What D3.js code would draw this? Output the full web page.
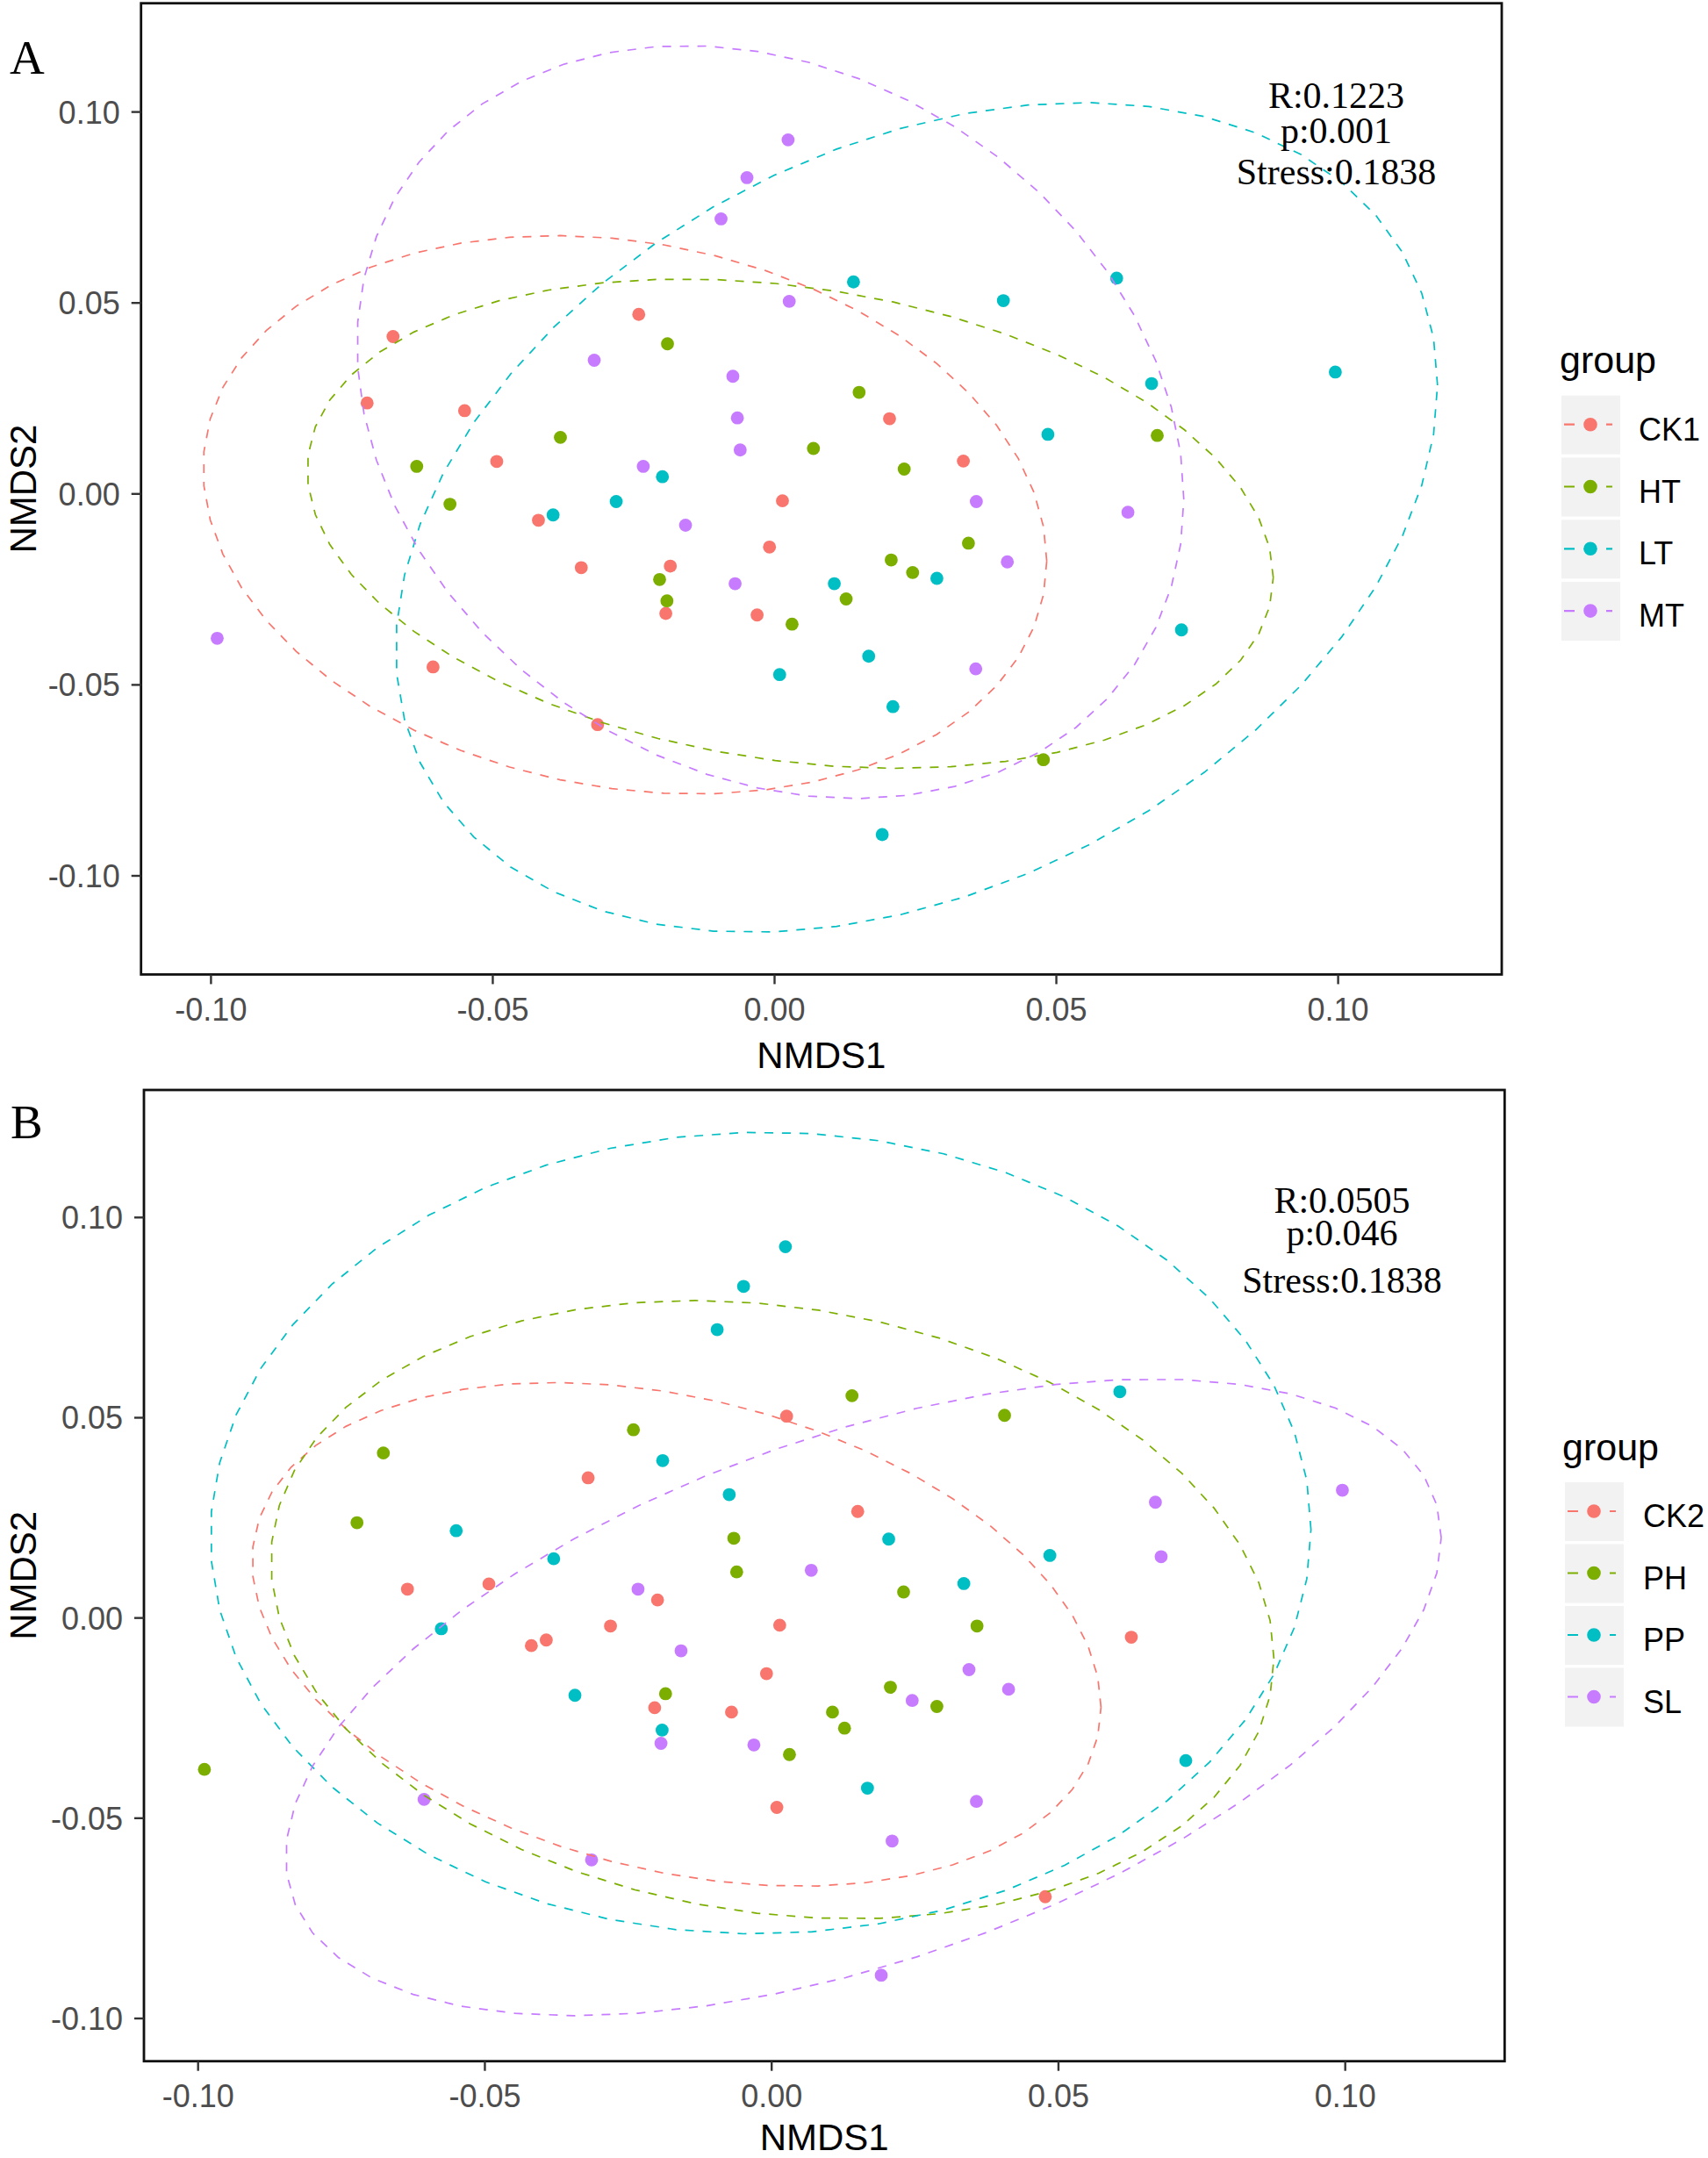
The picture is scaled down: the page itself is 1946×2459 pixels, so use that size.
<!DOCTYPE html>
<html>
<head>
<meta charset="utf-8">
<script src="https://cdn.jsdelivr.net/npm/d3@7"></script>
<style>
  html, body { margin: 0; padding: 0; background: #ffffff; }
  svg { display: block; }
</style>
</head>
<body>
<svg id="chart" width="1946" height="2459"></svg>
<script>
// ---------------- DATA ----------------
// NMDS coordinates of the 64 samples (same ordination in both panels)
const nmds1 = [
  -0.0677, -0.0723, -0.0550, -0.0493, -0.0419, -0.0343, -0.0241, -0.0185,
  -0.0193, -0.0606, -0.0314, -0.0031, -0.0009,  0.0014,  0.0204,  0.0335,
  -0.0635, -0.0576, -0.0380, -0.0190, -0.0204, -0.0191,  0.0031,  0.0069,
   0.0150,  0.0127,  0.0230,  0.0207,  0.0245,  0.0344,  0.0679,  0.0477,
  -0.0393, -0.0281, -0.0199,  0.0009,  0.0106,  0.0140,  0.0167,  0.0210,
   0.0288,  0.0191,  0.0406,  0.0485,  0.0607,  0.0669,  0.0722,  0.0995,
  -0.0989, -0.0320, -0.0233, -0.0158, -0.0095, -0.0049,  0.0024,  0.0026,
  -0.0074, -0.0066, -0.0061, -0.0070,  0.0358,  0.0413,  0.0357,  0.0627
];
const nmds2 = [
   0.0412,  0.0238,  0.0218,  0.0085, -0.0069, -0.0193,  0.0470, -0.0189,
  -0.0313, -0.0453, -0.0604, -0.0317, -0.0139, -0.0018,  0.0197,  0.0086,
   0.0072, -0.0027,  0.0148,  0.0393, -0.0224, -0.0280, -0.0341,  0.0119,
   0.0266, -0.0275,  0.0065, -0.0173, -0.0206, -0.0129,  0.0153, -0.0696,
  -0.0055, -0.0020,  0.0045, -0.0473, -0.0235,  0.0555, -0.0425, -0.0557,
  -0.0221, -0.0892,  0.0506,  0.0156,  0.0565,  0.0289, -0.0356,  0.0319,
  -0.0378,  0.0350,  0.0072, -0.0082,  0.0720,  0.0828,  0.0927,  0.0504,
   0.0308,  0.0199,  0.0115, -0.0235, -0.0020, -0.0178, -0.0458, -0.0048
];
// group of each sample, panel A
const groupA = [
  "CK1","CK1","CK1","CK1","CK1","CK1","CK1","CK1","CK1","CK1","CK1","CK1","CK1","CK1","CK1","CK1",
  "HT","HT","HT","HT","HT","HT","HT","HT","HT","HT","HT","HT","HT","HT","HT","HT",
  "LT","LT","LT","LT","LT","LT","LT","LT","LT","LT","LT","LT","LT","LT","LT","LT",
  "MT","MT","MT","MT","MT","MT","MT","MT","MT","MT","MT","MT","MT","MT","MT","MT"
];
// group of each sample, panel B
const groupB = [
  "PH","PH","PP","CK2","CK2","PP","PH","PH","SL","SL","SL","SL","CK2","CK2","PP","PP",
  "CK2","PP","PP","PP","CK2","PP","PH","SL","CK2","PH","PH","PH","SL","SL","SL","CK2",
  "CK2","CK2","CK2","CK2","PH","PH","PP","SL","PH","SL","PH","PP","PP","SL","PP","SL",
  "PH","CK2","SL","SL","PP","PP","PP","CK2","PP","PH","PH","CK2","PH","SL","SL","CK2"
];
const levelsA = ["CK1", "HT", "LT", "MT"];
const levelsB = ["CK2", "PH", "PP", "SL"];
const palette = ["#F8766D", "#7CAE00", "#00BFC4", "#C77CFF"];
const statsA = ["R:0.1223", "p:0.001", "Stress:0.1838"];
const statsB = ["R:0.0505", "p:0.046", "Stress:0.1838"];
const axisTicks = [-0.10, -0.05, 0.00, 0.05, 0.10];
const axisTickLabels = ["-0.10", "-0.05", "0.00", "0.05", "0.10"];
const xTitle = "NMDS1";
const yTitle = "NMDS2";
const legendTitle = "group";

// ---------------- STATS (ggplot2 stat_ellipse, type "t", level 0.95) ----------------
function covTrob(pts, nu = 5, maxit = 25, tol = 0.01) {
  const n = pts.length, p = 2;
  let loc = [d3.mean(pts, d => d[0]), d3.mean(pts, d => d[1])];
  let w = pts.map(() => 1);
  let X;
  for (let it = 0; it < maxit; it++) {
    const w0 = w.slice();
    X = pts.map(d => [d[0] - loc[0], d[1] - loc[1]]);
    const sw = d3.sum(w);
    let a = 0, b = 0, c = 0;
    X.forEach((v, i) => { a += w[i] * v[0] * v[0]; b += w[i] * v[0] * v[1]; c += w[i] * v[1] * v[1]; });
    a /= sw; b /= sw; c /= sw;
    const det = a * c - b * b;
    const ia = c / det, ib = -b / det, ic = a / det;
    const Q = X.map(v => v[0] * v[0] * ia + 2 * v[0] * v[1] * ib + v[1] * v[1] * ic);
    w = Q.map(q => (nu + p) / (nu + q));
    const sw2 = d3.sum(w);
    loc = [d3.sum(pts, (d, i) => w[i] * d[0]) / sw2, d3.sum(pts, (d, i) => w[i] * d[1]) / sw2];
    if (w.every((v, i) => Math.abs(v - w0[i]) < tol)) break;
  }
  let a = 0, b = 0, c = 0;
  X.forEach((v, i) => { a += w[i] * v[0] * v[0]; b += w[i] * v[0] * v[1]; c += w[i] * v[1] * v[1]; });
  return { center: loc, cov: [[a / n, b / n], [b / n, c / n]] };
}
function qf2(prob, d2) { return d2 / 2 * (Math.pow(1 - prob, -2 / d2) - 1); }
function ellipsePath(pts, level = 0.95, segments = 51) {
  const n = pts.length;
  const { center, cov } = covTrob(pts);
  const r = Math.sqrt(2 * qf2(level, n - 1));
  const R11 = Math.sqrt(cov[0][0]);
  const R12 = cov[0][1] / R11;
  const R22 = Math.sqrt(cov[1][1] - R12 * R12);
  const out = [];
  for (let k = 0; k <= segments; k++) {
    const t = k * 2 * Math.PI / segments;
    const c = Math.cos(t), s = Math.sin(t);
    out.push([center[0] + r * c * R11, center[1] + r * (c * R12 + s * R22)]);
  }
  return out;
}

// ---------------- LAYOUT ----------------
const panels = [
  { tag: "A", groups: groupA, levels: levelsA, stats: statsA,
    box: { l: 160.7, r: 1711, t: 3.7, b: 1110.4 },
    xr: [240.4, 1524.6], yr: [998, 127.6],
    tagPos: [11, 84], xTitleY: 1217,
    annX: 1522.5, annY: [122.7, 162.7, 210.3],
    leg: { titleX: 1777, titleY: 425, keyX: 1779, keyY0: 450.7, step: 70.8, labelX: 1867 } },
  { tag: "B", groups: groupB, levels: levelsB, stats: statsB,
    box: { l: 164, r: 1714.3, t: 1242, b: 2348.7 },
    xr: [225.7, 1532.7], yr: [2300, 1387.3],
    tagPos: [12, 1297], xTitleY: 2450,
    annX: 1529, annY: [1381.7, 1418.5, 1473],
    leg: { titleX: 1780, titleY: 1664, keyX: 1783, keyY0: 1689, step: 70.5, labelX: 1872 } }
];

const svg = d3.select("#chart");
const SANS = "'Liberation Sans', Arial, Helvetica, sans-serif";
const SERIF = "'Liberation Serif', 'Times New Roman', serif";
const DASH = "10,10";

panels.forEach((P, pi) => {
  const x = d3.scaleLinear().domain([-0.1, 0.1]).range(P.xr);
  const y = d3.scaleLinear().domain([-0.1, 0.1]).range(P.yr);
  const color = d3.scaleOrdinal().domain(P.levels).range(palette);
  const g = svg.append("g");
  const B = P.box;

  const clipId = "clip" + pi;
  g.append("clipPath").attr("id", clipId).append("rect")
    .attr("x", B.l).attr("y", B.t).attr("width", B.r - B.l).attr("height", B.b - B.t);

  const plot = g.append("g").attr("clip-path", `url(#${clipId})`);

  // points
  const idx = d3.range(nmds1.length);
  plot.selectAll("circle.pt").data(idx).join("circle")
    .attr("class", "pt")
    .attr("cx", i => x(nmds1[i])).attr("cy", i => y(nmds2[i]))
    .attr("r", 7.4)
    .attr("fill", i => color(P.groups[i]));

  // ellipses
  const line = d3.line().x(d => x(d[0])).y(d => y(d[1]));
  P.levels.forEach(lv => {
    const pts = idx.filter(i => P.groups[i] === lv).map(i => [nmds1[i], nmds2[i]]);
    plot.append("path").datum(ellipsePath(pts))
      .attr("d", line)
      .attr("fill", "none")
      .attr("stroke", color(lv))
      .attr("stroke-width", 1.7)
      .attr("stroke-dasharray", DASH);
  });

  // annotation
  P.stats.forEach((s, k) => {
    g.append("text").attr("x", P.annX).attr("y", P.annY[k])
      .attr("text-anchor", "middle")
      .attr("font-family", SERIF).attr("font-size", 42).attr("fill", "#000")
      .text(s);
  });

  // panel border
  g.append("rect").attr("x", B.l).attr("y", B.t)
    .attr("width", B.r - B.l).attr("height", B.b - B.t)
    .attr("fill", "none").attr("stroke", "#111").attr("stroke-width", 2.8);

  // x axis ticks
  axisTicks.forEach((v, k) => {
    g.append("line").attr("x1", x(v)).attr("x2", x(v))
      .attr("y1", B.b).attr("y2", B.b + 11)
      .attr("stroke", "#333").attr("stroke-width", 2.4);
    g.append("text").attr("x", x(v)).attr("y", B.b + 52.6)
      .attr("text-anchor", "middle")
      .attr("font-family", SANS).attr("font-size", 36).attr("fill", "#4D4D4D")
      .text(axisTickLabels[k]);
  });
  // y axis ticks
  axisTicks.forEach((v, k) => {
    g.append("line").attr("y1", y(v)).attr("y2", y(v))
      .attr("x1", B.l).attr("x2", B.l - 11)
      .attr("stroke", "#333").attr("stroke-width", 2.4);
    g.append("text").attr("x", B.l - 24).attr("y", y(v) + 13)
      .attr("text-anchor", "end")
      .attr("font-family", SANS).attr("font-size", 36).attr("fill", "#4D4D4D")
      .text(axisTickLabels[k]);
  });

  // axis titles
  g.append("text").attr("x", (B.l + B.r) / 2).attr("y", P.xTitleY)
    .attr("text-anchor", "middle")
    .attr("font-family", SANS).attr("font-size", 42).attr("fill", "#000")
    .text(xTitle);
  const cy = (B.t + B.b) / 2;
  g.append("text")
    .attr("transform", `translate(41,${cy}) rotate(-90)`)
    .attr("text-anchor", "middle")
    .attr("font-family", SANS).attr("font-size", 42).attr("fill", "#000")
    .text(yTitle);

  // panel tag
  g.append("text").attr("x", P.tagPos[0]).attr("y", P.tagPos[1])
    .attr("font-family", SERIF).attr("font-size", 55).attr("fill", "#000")
    .text(P.tag);

  // legend
  const L = P.leg;
  g.append("text").attr("x", L.titleX).attr("y", L.titleY)
    .attr("font-family", SANS).attr("font-size", 43).attr("fill", "#000")
    .text(legendTitle);
  P.levels.forEach((lv, k) => {
    const ky = L.keyY0 + k * L.step;
    const kg = g.append("g");
    kg.append("rect").attr("x", L.keyX).attr("y", ky).attr("width", 67).attr("height", 67)
      .attr("fill", "#F2F2F2");
    kg.append("line").attr("x1", L.keyX + 3).attr("x2", L.keyX + 58)
      .attr("y1", ky + 33).attr("y2", ky + 33)
      .attr("stroke", color(lv)).attr("stroke-width", 2.2).attr("stroke-dasharray", "12,12");
    kg.append("circle").attr("cx", L.keyX + 33).attr("cy", ky + 33).attr("r", 7.8)
      .attr("fill", color(lv));
    kg.append("text").attr("x", L.labelX).attr("y", ky + 33 + 18)
      .attr("font-family", SANS).attr("font-size", 36).attr("fill", "#000")
      .text(lv);
  });
});
</script>
</body>
</html>
